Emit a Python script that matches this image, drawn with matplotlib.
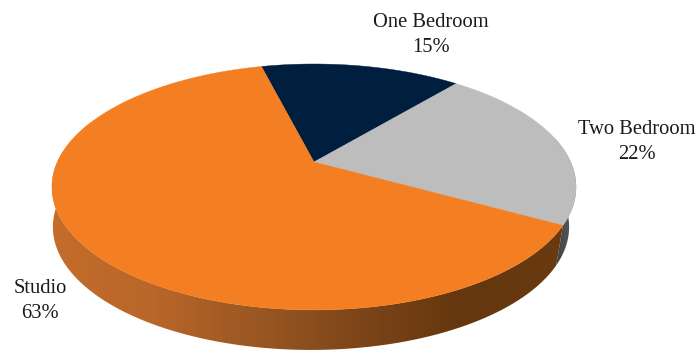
import numpy as np
import matplotlib
matplotlib.use('Agg')
import matplotlib.pyplot as plt
from matplotlib.colors import LinearSegmentedColormap
from matplotlib.patches import Polygon

labels = ['One Bedroom', 'Two Bedroom', 'Studio']
shares = [15, 22, 63]
colors = ['#001f3f', '#bdbdbd', '#f37f22']

# pie geometry in pixels, the circle goes through a perspective map
cx, cy = 314, 162
a, b, k = 256.6, 117.9, 0.203
start = -14.2
depth = 40
shrink = 0.985
shift = -3


def top(t):
    t = np.radians(t)
    u, v = np.sin(t), np.cos(t)
    d = 1 + k * v
    return cx + a * u / d, cy - b * v / d


def bottom(t):
    x, y = top(t)
    return cx + shift + (x - cx) * shrink, y + depth


def arc(t0, t1):
    return np.linspace(t0, t1, 200)


fig = plt.figure(figsize=(6.98, 3.52), dpi=100)
ax = fig.add_axes([0, 0, 1, 1])
ax.set_xlim(0, 698)
ax.set_ylim(352, 0)
ax.axis('off')

edges = start + np.cumsum([0] + shares) * 3.6

# sides first, the top covers whatever overlaps
side_grey = LinearSegmentedColormap.from_list('g', ['#3f4144', '#5f6266'])
side_orange = LinearSegmentedColormap.from_list(
    'o', ['#c46c2a', '#b8662a', '#9a5722', '#7d4519', '#65370f', '#6a3a10'])


def side(t0, t1, cmap, x0, x1):
    t = arc(t0, t1)
    tx, ty = top(t)
    bx, by = bottom(t)
    pts = np.vstack([np.c_[tx, ty], np.c_[bx, by][::-1]])
    poly = Polygon(pts, closed=True, fc='none', ec='none')
    ax.add_patch(poly)
    im = ax.imshow(np.linspace(0, 1, 256)[None, :], cmap=cmap, aspect='auto',
                   extent=[x0, x1, 352, 0], zorder=1)
    im.set_clip_path(poly)


side(edges[1], edges[2], side_grey, 555, 578)
side(edges[2], 290, side_orange, 52, 565)
ax.set_xlim(0, 698)
ax.set_ylim(352, 0)

for i in range(3):
    t = arc(edges[i], edges[i + 1])
    x, y = top(t)
    pts = np.vstack([[cx, cy], np.c_[x, y]])
    ax.add_patch(Polygon(pts, closed=True, fc=colors[i], ec=colors[i], lw=0.3, zorder=2))

font = dict(family='Liberation Serif', fontsize=14.8, color='#1a1a1a',
            ha='center', va='center', linespacing=1.4)
ax.text(431, 35, labels[0] + '\n' + str(shares[0]) + '%', **font)
ax.text(637, 142, labels[1] + '\n' + str(shares[1]) + '%', **font)
ax.text(40, 301, labels[2] + '\n' + str(shares[2]) + '%', **font)

fig.savefig('out.png', dpi=100)
